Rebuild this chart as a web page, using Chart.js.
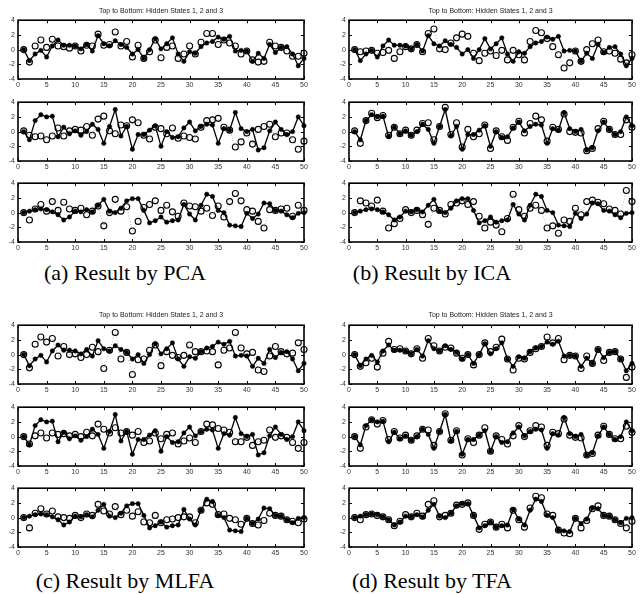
<!DOCTYPE html>
<html>
<head>
<meta charset="utf-8">
<script src="https://cdn.jsdelivr.net/npm/chart.js@4.4.0/dist/chart.umd.min.js"></script>
<style>
  body { margin: 0; background: #fff; }
  #page { position: relative; width: 640px; height: 594px; overflow: hidden; }
  canvas { position: absolute; }
  .title { position: absolute; font: 7px "Liberation Sans", Arial, sans-serif; color: #222; transform: translate(-50%, -50%); white-space: nowrap; }
  .caption { position: absolute; font: 22px "Liberation Serif", "Times New Roman", serif; color: #000; transform: translate(-50%, -50%); white-space: nowrap; }
</style>
</head>
<body>
<div id="page"></div>
<script>
// time steps and axis ticks
const steps = [1,2,3,4,5,6,7,8,9,10,11,12,13,14,15,16,17,18,19,20,21,22,23,24,25,
               26,27,28,29,30,31,32,33,34,35,36,37,38,39,40,41,42,43,44,45,46,47,48,49,50];
const xTicks = [0, 5, 10, 15, 20, 25, 30, 35, 40, 45, 50];
const yTicks = [-4, -2, 0, 2, 4];

// true hidden states (solid line, filled dots) - same in every panel
const trueState1 = [0.0,-1.5,-0.6,-0.1,-1.0,0.5,1.3,0.6,0.6,0.5,0.1,0.7,-0.2,1.9,0.8,0.5,1.2,0.7,0.3,-0.6,
                    0.0,-1.2,0.0,1.5,0.1,0.8,1.6,-0.6,-1.6,-0.3,-0.5,0.4,0.9,1.1,1.7,1.4,1.8,-0.2,-0.1,-0.2,
                    -1.6,-0.5,-1.2,0.7,-0.4,0.3,0.4,-0.6,-2.2,-1.2];
const trueState2 = [0.0,-1.1,1.5,2.3,2.0,2.1,-0.7,0.6,-0.3,0.1,-0.5,0.0,1.0,0.3,-1.6,0.7,3.0,-0.6,0.7,-2.4,
                    -0.4,-0.4,0.2,0.8,-2.0,0.0,-0.8,-0.7,0.5,1.3,0.1,0.7,1.0,0.9,-1.6,0.4,0.2,2.6,0.4,0.0,
                    0.3,-2.5,-2.2,0.1,1.3,0.3,-0.4,0.0,2.0,0.8];
const trueState3 = [0.0,0.2,0.4,0.5,0.4,0.1,-0.3,-1.0,-0.6,0.2,0.1,0.4,0.1,1.0,1.8,0.2,0.0,0.6,1.6,1.9,
                    1.9,0.3,-1.4,-1.1,-0.6,-1.3,-1.1,-1.0,1.1,-0.2,-1.0,1.0,2.5,2.2,0.3,0.0,-1.7,-1.8,-1.9,-0.1,
                    -0.8,-0.2,1.3,1.2,0.3,0.2,-0.3,-0.7,-0.1,0.0];

// estimated states (open circles, dotted line)
const pcaEst1 = [0.0,-1.7,0.5,1.3,0.3,1.4,0.5,0.4,0.2,0.5,-0.2,0.6,0.5,2.1,0.6,0.7,2.4,0.5,1.1,-1.0,
                 0.6,-1.2,-0.3,1.3,-1.1,0.3,0.5,-1.2,-0.6,0.5,-0.6,1.0,2.2,2.2,0.7,1.3,0.9,0.5,-0.6,-0.2,
                 -1.4,-1.7,-1.6,1.0,0.5,0.3,-0.2,-0.9,-0.9,-0.5];
const pcaEst2 = [0.1,-0.5,-0.7,-0.6,-1.1,-0.6,0.5,-0.6,0.1,0.3,0.2,0.7,-0.5,1.7,2.1,0.1,-0.3,0.9,0.8,1.6,
                 1.2,-0.5,-1.0,0.6,0.4,-0.3,0.5,-0.9,-0.6,-0.8,-1.0,0.6,1.5,1.6,1.8,0.6,0.2,-2.1,-1.4,-0.2,
                 -1.7,0.3,0.7,1.0,-0.7,-0.2,-0.2,-1.1,-2.4,-1.3];
const pcaEst3 = [0.0,-1.0,0.5,1.1,0.2,1.5,0.3,1.4,0.5,0.3,0.6,-0.3,0.2,0.9,-1.8,0.0,1.8,0.2,0.8,-2.5,
                 -1.2,0.7,1.1,1.6,0.3,1.0,0.1,-0.5,1.3,0.9,0.8,0.2,0.6,-0.4,0.9,-0.6,1.5,2.6,1.6,0.4,
                 0.2,-1.2,-2.1,0.4,0.3,0.5,0.6,-0.5,1.0,0.3];

const icaEst1 = [0.0,-0.3,-0.2,-0.1,-0.5,-0.4,-0.1,-1.2,-0.3,0.4,0.1,0.7,-0.3,2.2,2.8,0.1,0.0,0.9,1.6,2.1,
                 1.8,-0.5,-1.5,-0.5,-0.2,-0.8,-0.1,-1.4,-0.1,-0.7,-1.4,1.1,2.6,2.3,1.5,0.4,-0.7,-2.5,-1.8,-0.2,
                 -1.6,0.0,0.8,1.3,-0.3,-0.2,-0.5,-1.3,-1.8,-0.7];
const icaEst2 = [0.1,-1.6,1.5,2.5,1.9,2.2,-0.5,0.6,-0.3,0.2,-0.5,0.2,1.1,1.2,-1.1,0.7,3.3,-0.4,1.2,-2.1,
                 0.3,-0.7,-0.3,0.9,-2.3,0.1,-0.7,-1.2,0.6,1.4,-0.2,1.1,2.1,1.6,-1.3,0.6,0.3,2.4,0.0,-0.1,
                 -0.2,-2.6,-2.3,0.4,1.4,0.3,-0.4,-0.4,1.6,0.6];
const icaEst3 = [0.0,1.6,1.3,0.9,1.7,0.2,-2.1,-1.5,-0.8,0.4,0.0,0.3,-0.3,-1.6,0.6,0.3,-0.2,1.1,1.3,1.6,
                 1.1,1.5,-0.5,-2.1,-1.3,-1.7,-2.6,-0.8,2.5,0.4,-0.5,0.6,1.0,0.3,-2.1,-1.8,-2.8,-1.0,-1.2,0.6,
                 -0.3,1.5,1.7,1.4,1.2,0.5,0.3,-0.2,3.0,1.5];

const mlfaEst1 = [0.0,-1.8,1.4,2.4,1.7,2.2,-0.2,1.1,0.0,0.1,-0.4,0.0,1.0,0.4,-1.9,0.6,3.0,-0.6,0.3,-2.7,
                  -0.7,-0.6,0.6,1.3,-1.5,0.4,-0.1,-0.4,-0.1,1.3,0.4,0.4,0.5,0.4,-1.4,0.6,0.9,3.0,0.9,0.1,
                  0.3,-2.1,-2.3,-0.2,1.1,0.4,0.1,0.2,1.6,0.7];
const mlfaEst2 = [0.0,-1.0,0.1,0.5,-0.2,0.5,0.3,0.4,0.1,0.3,0.0,0.6,0.1,1.7,1.0,0.5,1.2,0.5,0.7,0.2,
                  0.7,-0.8,-0.6,0.5,-0.3,0.3,0.5,-1.0,-0.6,-0.2,-0.8,0.7,1.7,1.6,1.1,0.9,0.6,-0.7,-0.7,-0.1,
                  -1.2,-0.7,-0.5,0.9,-0.1,0.1,-0.1,-0.8,-1.6,-0.8];
const mlfaEst3 = [0.0,-1.4,0.6,1.2,0.5,0.9,0.1,0.0,-0.1,0.3,0.0,0.5,0.3,1.8,0.9,0.5,1.5,0.4,1.0,0.2,
                  0.8,-0.6,-0.7,0.3,-0.7,-0.3,-0.2,0.0,0.1,0.1,-0.7,1.0,2.0,1.8,0.4,0.5,-0.1,-0.3,-0.9,-0.1,
                  -0.8,-1.0,-0.4,0.6,0.3,0.2,-0.3,-0.5,-0.7,-0.2];

const tfaEst1 = [0.0,-1.6,-1.1,-0.5,-1.7,0.2,1.8,0.7,0.8,0.5,0.1,0.8,-0.5,2.2,1.2,0.5,1.0,0.9,0.2,-0.5,
                 0.0,-1.4,0.0,1.6,0.4,1.0,2.1,-0.6,-2.1,-0.5,-0.6,0.3,0.8,1.1,2.4,1.6,2.2,-0.7,-0.1,-0.2,
                 -1.9,-0.2,-1.2,0.7,-0.8,0.3,0.4,-0.6,-3.1,-1.7];
const tfaEst2 = [0.0,-1.6,1.3,2.3,1.7,2.2,-0.4,0.7,-0.2,0.2,-0.5,0.1,1.0,0.9,-1.2,0.7,3.1,-0.5,0.8,-2.5,
                 -0.3,-0.8,0.2,1.2,-2.0,0.1,-0.4,-1.0,0.1,1.5,0.0,0.8,1.5,1.3,-1.2,0.6,0.4,2.4,0.2,-0.1,
                 -0.2,-2.5,-2.3,0.2,1.4,0.3,-0.3,-0.3,1.4,0.6];
const tfaEst3 = [0.0,-0.3,0.4,0.5,0.3,0.1,-0.3,-1.1,-0.5,0.4,0.1,0.6,0.2,1.8,2.3,0.1,0.3,0.6,1.7,1.8,
                 2.0,0.3,-1.6,-0.9,-0.6,-1.3,-0.9,-1.4,1.0,-0.3,-1.3,1.3,2.9,2.7,0.5,0.3,-1.7,-2.1,-2.2,-0.1,
                 -1.4,-0.4,1.2,1.6,0.3,0.2,-0.3,-0.8,-1.4,-0.5];

const titleText = 'Top to Bottom: Hidden States 1, 2 and 3';
const captions = ['(a) Result by PCA', '(b) Result by ICA', '(c) Result by MLFA', '(d) Result by TFA'];

// panel geometry (box edges of the plot areas)
const panels = [
  { left: 18,  right: 304, tops: [17, 99, 180],  titleY: 10,  capX: 125, capY: 273, est: [pcaEst1, pcaEst2, pcaEst3] },
  { left: 349, right: 632, tops: [17, 99, 180],  titleY: 10,  capX: 432, capY: 273, est: [icaEst1, icaEst2, icaEst3] },
  { left: 18,  right: 304, tops: [322, 404, 485], titleY: 314, capX: 125, capY: 581, est: [mlfaEst1, mlfaEst2, mlfaEst3] },
  { left: 349, right: 632, tops: [322, 404, 485], titleY: 314, capX: 432, capY: 581, est: [tfaEst1, tfaEst2, tfaEst3] }
];
const truths = [trueState1, trueState2, trueState3];
const boxH = 62;

// box around the plot area + inward ticks on all four sides (matlab look)
const boxPlugin = {
  id: 'box',
  beforeDatasetsDraw(chart) {
    const { ctx, chartArea: a, scales } = chart;
    ctx.save();
    ctx.strokeStyle = '#000';
    ctx.lineWidth = 1;
    ctx.beginPath();
    xTicks.forEach(v => {
      const px = Math.round(scales.x.getPixelForValue(v)) + 0.5;
      ctx.moveTo(px, a.top); ctx.lineTo(px, a.top + 3);
      ctx.moveTo(px, a.bottom); ctx.lineTo(px, a.bottom - 3);
    });
    yTicks.forEach(v => {
      const py = Math.round(scales.y.getPixelForValue(v)) + 0.5;
      ctx.moveTo(a.left, py); ctx.lineTo(a.left + 3, py);
      ctx.moveTo(a.right, py); ctx.lineTo(a.right - 3, py);
    });
    ctx.stroke();
    ctx.lineWidth = 1.6;
    ctx.strokeRect(a.left, a.top, a.right - a.left, a.bottom - a.top);
    ctx.restore();
  }
};

const page = document.getElementById('page');

function toPoints(vals) {
  return steps.map((s, i) => ({ x: s, y: vals[i] }));
}

function makeSub(x, y, w, truth, est) {
  const canvas = document.createElement('canvas');
  canvas.width = w + 18 + 8;
  canvas.height = boxH + 4 + 14;
  canvas.style.left = (x - 18) + 'px';
  canvas.style.top = (y - 4) + 'px';
  page.appendChild(canvas);

  const tickFont = { size: 7, family: '"Liberation Sans", Arial, sans-serif' };
  new Chart(canvas.getContext('2d'), {
    type: 'line',
    data: {
      datasets: [
        {
          data: toPoints(truth),
          borderColor: '#000', borderWidth: 1.3,
          pointRadius: 2.2, pointBackgroundColor: '#000', pointBorderColor: '#000', pointBorderWidth: 0.5,
          tension: 0, clip: false, order: 0
        },
        {
          data: toPoints(est),
          borderColor: '#9a9a9a', borderWidth: 0.8, borderDash: [1, 2],
          pointRadius: 3, pointBackgroundColor: 'rgba(0,0,0,0)', pointBorderColor: '#000', pointBorderWidth: 1.1,
          tension: 0, clip: false, order: 1
        }
      ]
    },
    options: {
      responsive: false,
      animation: false,
      devicePixelRatio: 1,
      layout: { padding: { top: 4, right: 8, left: 0, bottom: 0 } },
      plugins: { legend: { display: false }, tooltip: { enabled: false } },
      scales: {
        x: {
          type: 'linear', min: 0, max: 50,
          afterFit: s => { s.height = 14; },
          afterBuildTicks: s => { s.ticks = xTicks.map(v => ({ value: v })); },
          grid: { display: false, drawTicks: false },
          border: { display: false },
          ticks: { font: tickFont, color: '#333', padding: 2, maxRotation: 0, autoSkip: false }
        },
        y: {
          type: 'linear', min: -4, max: 4,
          afterFit: s => { s.width = 18; },
          afterBuildTicks: s => { s.ticks = yTicks.map(v => ({ value: v })); },
          grid: { display: false, drawTicks: false },
          border: { display: false },
          ticks: { font: tickFont, color: '#333', padding: 3 }
        }
      }
    },
    plugins: [boxPlugin]
  });
}

function addText(cls, text, x, y) {
  const d = document.createElement('div');
  d.className = cls;
  d.textContent = text;
  d.style.left = x + 'px';
  d.style.top = y + 'px';
  page.appendChild(d);
}

panels.forEach((p, k) => {
  const w = p.right - p.left;
  p.tops.forEach((t, j) => makeSub(p.left, t, w, truths[j], p.est[j]));
  addText('title', titleText, (p.left + p.right) / 2, p.titleY);
  addText('caption', captions[k], p.capX, p.capY);
});
</script>
</body>
</html>
